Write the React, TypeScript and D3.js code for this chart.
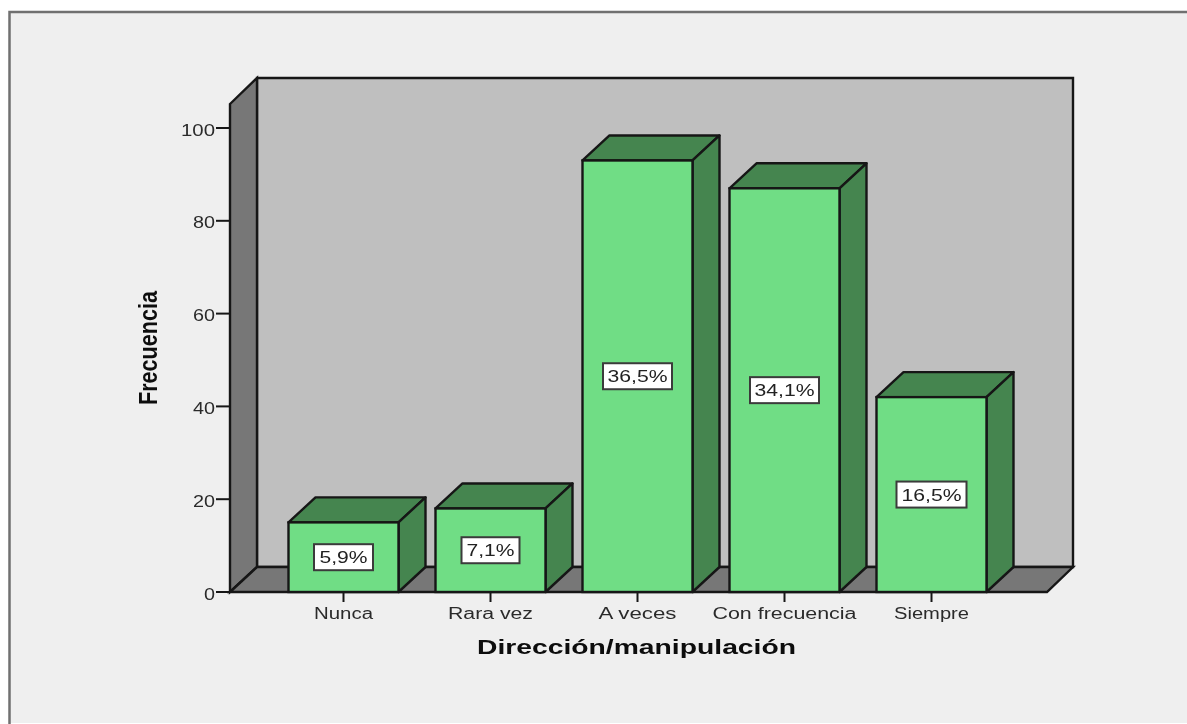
import React from "react";
import * as d3 from "d3";

const categories = ["Nunca", "Rara vez", "A veces", "Con frecuencia", "Siempre"];
const frequencies = [15, 18, 93, 87, 42];
const percentLabels = ["5,9%", "7,1%", "36,5%", "34,1%", "16,5%"];
const yTicks = [0, 20, 40, 60, 80, 100];
const categoryLabelWidths = [59, 85, 78, 144, 75];
const percentTextWidths = [48, 48, 60, 60, 60];
const percentBoxWidths = [59, 58, 69, 69, 70];

const INK = "#161616";
const FONT = "'Liberation Sans', Arial, sans-serif";
const depthX = 27;
const depthY = 25;
const barWidth = 110;

const y = d3.scaleLinear().domain([0, 100]).range([592, 128]);
const x = d3.scalePoint<string>().domain(categories).range([343.5, 931.5]);
const poly = d3.line();

export default function App() {
  const base = y(0);
  const floorL = 230;
  const floorR = 1047;
  const wallTop = 78;
  return (
    <svg
      width={1187}
      height={724}
      style={{ position: "absolute", left: 0, top: 0, display: "block", background: "#fff" }}
    >
      <defs>
        <filter id="soft" x="0" y="0" width="100%" height="100%" filterUnits="userSpaceOnUse" primitiveUnits="userSpaceOnUse">
          <feGaussianBlur stdDeviation="0.45" />
        </filter>
      </defs>
      <g filter="url(#soft)">
        <rect x={9} y={12} width={1178} height={711} fill="#efefef" />
        <path d="M9.5,724V12H1187" fill="none" stroke="#707070" strokeWidth={2.5} />

        {/* back wall, side wall, floor */}
        <path
          d={poly([[floorL + depthX, wallTop], [floorR + depthX - 1, wallTop], [floorR + depthX - 1, base - depthY], [floorL + depthX, base - depthY]]) + "Z"}
          fill="#bfbfbf" stroke={INK} strokeWidth={2.4}
        />
        <path
          d={poly([[floorL, wallTop + depthY + 1], [floorL + depthX, wallTop], [floorL + depthX, base - depthY], [floorL, base]]) + "Z"}
          fill="#777777" stroke={INK} strokeWidth={2.4}
        />
        <path
          d={poly([[floorL, base], [floorL + depthX, base - depthY], [floorR + depthX - 1, base - depthY], [floorR, base]]) + "Z"}
          fill="#777777" stroke={INK} strokeWidth={2.4}
        />

        {/* y axis */}
        {yTicks.map((t) => (
          <g key={t}>
            <line x1={216} x2={floorL} y1={y(t)} y2={y(t)} stroke={INK} strokeWidth={2} />
            <text
              x={215} y={y(t) + 7.5} textAnchor="end" fontFamily={FONT} fontSize={16} fill="#2c2c2c"
              textLength={t === 100 ? 34 : t === 0 ? 11 : 22} lengthAdjust="spacingAndGlyphs"
            >
              {t}
            </text>
          </g>
        ))}

        {/* bars */}
        {categories.map((c, i) => {
          const cx = x(c) as number;
          const l = cx - barWidth / 2;
          const r = cx + barWidth / 2;
          const top = y(frequencies[i]);
          const mid = (top + base) / 2;
          const bw = percentBoxWidths[i];
          return (
            <g key={c}>
              <path
                d={poly([[l, top], [l + depthX, top - depthY], [r + depthX, top - depthY], [r, top]]) + "Z"}
                fill="#44854f" stroke={INK} strokeWidth={2.4} strokeLinejoin="round"
              />
              <path
                d={poly([[r, top], [r + depthX, top - depthY], [r + depthX, base - depthY], [r, base]]) + "Z"}
                fill="#44854f" stroke={INK} strokeWidth={2.4} strokeLinejoin="round"
              />
              <rect x={l} y={top} width={barWidth} height={base - top} fill="#70dd85" stroke={INK} strokeWidth={2.4} />
              <rect x={cx - bw / 2} y={mid - 13} width={bw} height={26} fill="#fff" stroke="#3a3a3a" strokeWidth={2} />
              <text
                x={cx} y={mid + 6} textAnchor="middle" fontFamily={FONT} fontSize={17} fill="#222"
                textLength={percentTextWidths[i]} lengthAdjust="spacingAndGlyphs"
              >
                {percentLabels[i]}
              </text>
              <line x1={cx} x2={cx} y1={base} y2={base + 10} stroke={INK} strokeWidth={2} />
              <text
                x={cx} y={base + 27} textAnchor="middle" fontFamily={FONT} fontSize={16} fill="#2c2c2c"
                textLength={categoryLabelWidths[i]} lengthAdjust="spacingAndGlyphs"
              >
                {c}
              </text>
            </g>
          );
        })}

        {/* axis titles */}
        <text
          x={636.5} y={654} textAnchor="middle" fontFamily={FONT} fontSize={21} fontWeight={700} fill="#0c0c0c"
          textLength={319} lengthAdjust="spacingAndGlyphs"
        >
          Dirección/manipulación
        </text>
        <text
          transform="translate(157,348) rotate(-90)" textAnchor="middle" fontFamily={FONT} fontSize={25}
          fontWeight={700} fill="#0c0c0c" textLength={114} lengthAdjust="spacingAndGlyphs"
        >
          Frecuencia
        </text>
      </g>
    </svg>
  );
}
